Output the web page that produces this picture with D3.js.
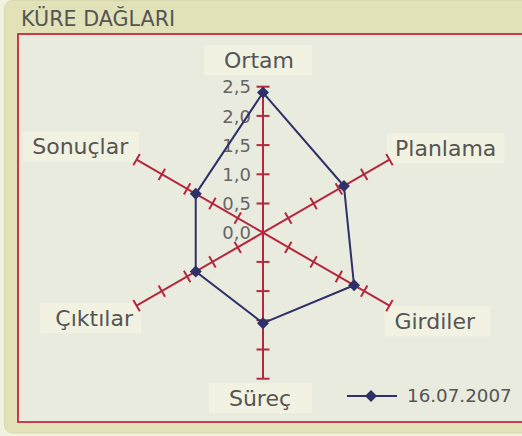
<!DOCTYPE html>
<html><head><meta charset="utf-8">
<script src="https://cdn.jsdelivr.net/npm/d3@7"></script>
<style>html,body{margin:0;padding:0;background:#f2f2e2;}svg{display:block;}</style>
</head><body>
<script>
const title = "KÜRE DAĞLARI";
const categories = ["Ortam","Planlama","Girdiler","Süreç","Çıktılar","Sonuçlar"];
const seriesName = "16.07.2007";
const values = [2.4, 1.6, 1.8, 1.55, 1.33, 1.33];
const tickValues = [0, 0.5, 1.0, 1.5, 2.0, 2.5];
const tickLabels = ["0,0","0,5","1,0","1,5","2,0","2,5"];

const W = 522, H = 436;
const cx = 263, cy = 232.7, R = 146;
const font = "'DejaVu Sans', sans-serif";
const axisColor = "#b3283f", seriesColor = "#2e3068";

const svg = d3.select("body").append("svg").attr("width", W).attr("height", H);
svg.append("rect").attr("x",0).attr("y",0).attr("width",W).attr("height",H).attr("fill","#f2f2e2");
svg.append("rect").attr("x",4.5).attr("y",0.5).attr("width",W+20).attr("height",432.5).attr("rx",8)
  .attr("fill","#e2e2b8").attr("stroke","#d8d8b0").attr("stroke-width",1);
svg.append("text").attr("x",21).attr("y",26).attr("font-family",font).attr("font-size",20.7)
  .attr("fill","#555").text(title);
svg.append("rect").attr("x",18).attr("y",34).attr("width",W).attr("height",388)
  .attr("fill","#eaebdf").attr("stroke","#c62a3c").attr("stroke-width",1.8);

const r = d3.scaleLinear().domain([0,2.5]).range([0,R]);
const angle = d3.scalePoint().domain(categories).range([0, 300]); // degrees clockwise from top
const pt = (cat, v) => {
  const a = angle(cat) * Math.PI/180;
  return [cx + r(v)*Math.sin(a), cy - r(v)*Math.cos(a)];
};

// category labels (boxes under the axes)
const labelPos = {
  "Ortam":   {dx:-4, dy:-19, anchor:"middle", pl:20, pr:18},
  "Planlama":{dx:5.6, dy:-3.7, anchor:"start", pl:8, pr:8},
  "Girdiler":{dx:5, dy:23, anchor:"start", pl:10, pr:14},
  "Süreç":   {dx:-3, dy:27, anchor:"middle", pl:20, pr:21},
  "Çıktılar":{dx:-3.6, dy:20, anchor:"end", pl:15, pr:7},
  "Sonuçlar":{dx:-8.3, dy:-5.4, anchor:"end", pl:9, pr:10}
};
const labelLayer = svg.append("g");
categories.forEach(cat => {
  const [x,y] = pt(cat, 2.5);
  const p = labelPos[cat];
  const lg = labelLayer.append("g");
  const rect = lg.append("rect").attr("fill","#f1f2e1");
  const t = lg.append("text").attr("x", x+p.dx).attr("y", y+p.dy).attr("text-anchor",p.anchor)
    .attr("font-family",font).attr("font-size",22).attr("fill","#555").text(cat);
  const b = t.node().getBBox();
  rect.attr("x",b.x-p.pl).attr("y",b.y-2.5).attr("width",b.width+p.pl+p.pr).attr("height",b.height+5);
});

const g = svg.append("g");
categories.forEach(cat => {
  const [x2,y2] = pt(cat, 2.5);
  g.append("line").attr("x1",cx).attr("y1",cy).attr("x2",x2).attr("y2",y2)
    .attr("stroke",axisColor).attr("stroke-width",2);
  const a = angle(cat)*Math.PI/180;
  const px = Math.cos(a), py = Math.sin(a);
  tickValues.slice(1).forEach(t => {
    const [x,y] = pt(cat, t);
    g.append("line").attr("x1",x-6.5*px).attr("y1",y-6.5*py).attr("x2",x+6.5*px).attr("y2",y+6.5*py)
      .attr("stroke",axisColor).attr("stroke-width",2);
  });
});

tickValues.forEach((t,i) => {
  const [x,y] = pt(categories[0], t);
  svg.append("text").attr("x", x-12).attr("y", y+6.6).attr("text-anchor","end")
    .attr("font-family",font).attr("font-size",18).attr("fill","#666").text(tickLabels[i]);
});

const pts = categories.map((c,i) => pt(c, values[i]));
svg.append("path").attr("d", d3.line()(pts) + "Z").attr("fill","none")
  .attr("stroke",seriesColor).attr("stroke-width",2);
const marker = d3.symbol().type(d3.symbolSquare).size(72);
svg.selectAll(".mk").data(pts).join("path").attr("class","mk")
  .attr("transform", d => `translate(${d[0]},${d[1]}) rotate(45)`)
  .attr("d", marker).attr("fill",seriesColor);

svg.append("line").attr("x1",347).attr("x2",397).attr("y1",396).attr("y2",396)
  .attr("stroke",seriesColor).attr("stroke-width",2);
svg.append("path").attr("transform","translate(371,396) rotate(45)")
  .attr("d", marker).attr("fill",seriesColor);
svg.append("text").attr("x",407).attr("y",402).attr("font-family",font).attr("font-size",18.3)
  .attr("fill","#555").text(seriesName);
</script>
</body></html>
